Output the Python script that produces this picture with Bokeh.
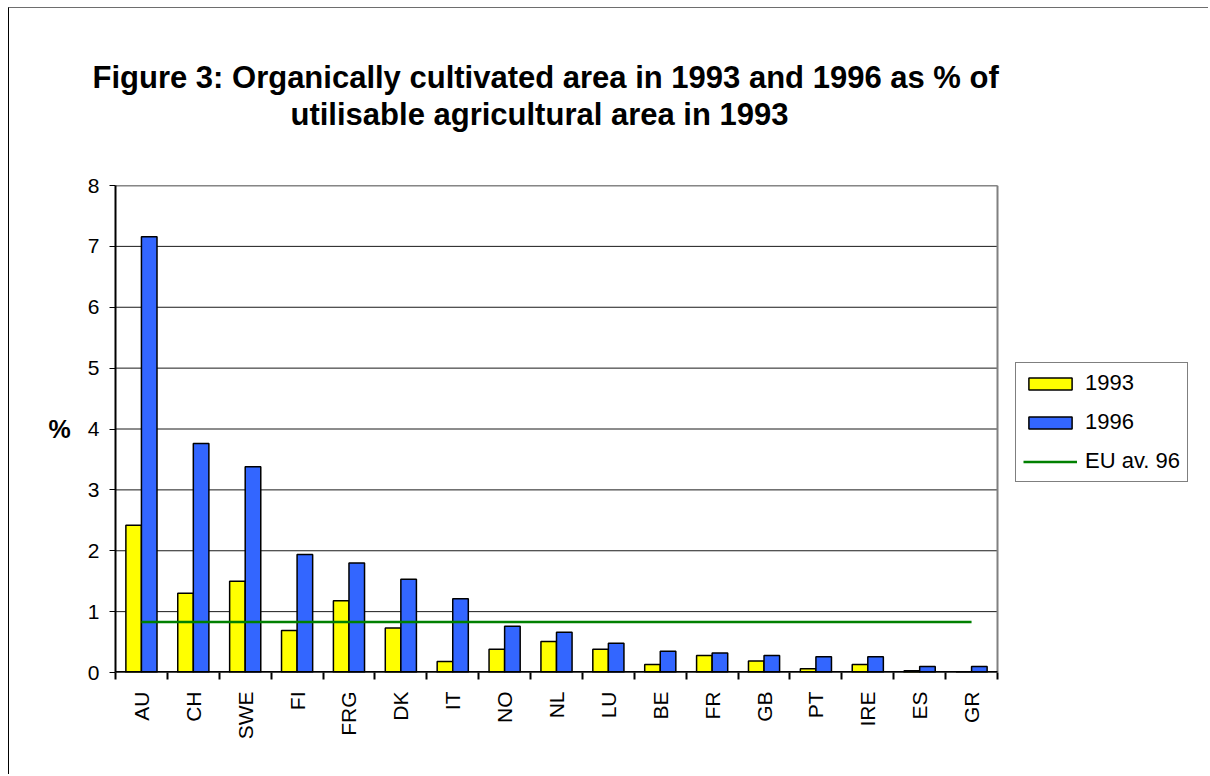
import numpy as np
from bokeh.plotting import figure
from bokeh.models import (Range1d, FixedTicker, Title, Legend, LegendItem,
                          ColumnDataSource)
from bokeh.transform import dodge
from bokeh.embed import file_html
from bokeh.resources import INLINE

# ---- data -------------------------------------------------------------
countries = ["AU", "CH", "SWE", "FI", "FRG", "DK", "IT", "NO", "NL", "LU",
             "BE", "FR", "GB", "PT", "IRE", "ES", "GR"]
area_1993 = [2.42, 1.30, 1.50, 0.69, 1.18, 0.73, 0.18, 0.38, 0.51, 0.38,
             0.13, 0.28, 0.19, 0.06, 0.13, 0.03, 0.00]
area_1996 = [7.16, 3.76, 3.38, 1.94, 1.80, 1.53, 1.21, 0.76, 0.66, 0.48,
             0.35, 0.32, 0.28, 0.26, 0.26, 0.10, 0.10]
eu_avg_1996 = 0.83
y_ticks = [0, 1, 2, 3, 4, 5, 6, 7, 8]
title_lines = ["Figure 3:  Organically cultivated area in 1993 and 1996 as % of",
               "utilisable agricultural area in 1993"]

n = len(countries)
centers = [i + 0.5 for i in range(n)]
src = ColumnDataSource(dict(
    x=centers,
    y93=area_1993,
    y96=area_1996,
    eu=[eu_avg_1996] * n,
))

FONT = "Liberation Sans"

# The frame is widened to the right so that the legend can live inside it;
# the plot area proper (categories 0..n) spans 882 px of the 1086 px frame.
x_end = n * 1086.0 / 882.0
y_lo, y_hi = y_ticks[0], y_ticks[-1]

p = figure(width=1200, height=767,
           x_range=Range1d(0, x_end), y_range=Range1d(y_lo, y_hi),
           output_backend="svg", toolbar_location=None,
           min_border_left=106, min_border_right=8,
           min_border_top=177, min_border_bottom=103)
p.styles = {"margin-left": "8px", "margin-top": "7px",
            "border-left": "1px solid #000000", "border-top": "1px solid #6e6e6e"}
p.background_fill_color = "white"
p.border_fill_color = "white"
p.outline_line_color = None

# horizontal grid lines, limited to the plot area
p.segment(x0=[0] * len(y_ticks), x1=[n] * len(y_ticks), y0=y_ticks, y1=y_ticks,
          line_color="#1a1a1a", line_width=1)
# plot-area border (top and right)
p.segment(x0=[0, n], x1=[n, n], y0=[y_hi, y_lo], y1=[y_hi, y_hi],
          line_color="#808080", line_width=2)

r93 = p.vbar(x=dodge("x", -0.15, range=p.x_range), top="y93", width=0.3,
             fill_color="#FFFF00", line_color="black", line_width=1.5, source=src)
r96 = p.vbar(x=dodge("x", 0.15, range=p.x_range), top="y96", width=0.3,
             fill_color="#3366FF", line_color="black", line_width=1.5, source=src)
reu = p.line(x="x", y="eu", line_color="#008000", line_width=2.5, source=src)

# category axis line
p.segment(x0=[0], x1=[n], y0=[y_lo], y1=[y_lo], line_color="black", line_width=3)

# ---- axes ---------------------------------------------------------------
xa = p.xaxis[0]
xa.ticker = FixedTicker(ticks=centers, minor_ticks=list(range(n + 1)))
xa.major_label_overrides = {c: name for c, name in zip(centers, countries)}
xa.major_tick_line_color = None
xa.major_tick_in = 0
xa.major_tick_out = 0
xa.minor_tick_line_color = "black"
xa.minor_tick_line_width = 2
xa.minor_tick_in = 0
xa.minor_tick_out = 7
xa.major_label_orientation = np.pi / 2
xa.major_label_standoff = 12
xa.major_label_text_font = FONT
xa.major_label_text_font_size = "21px"
xa.major_label_text_color = "black"
xa.axis_line_color = None

ya = p.yaxis[0]
ya.ticker = FixedTicker(ticks=y_ticks)
ya.major_tick_in = 0
ya.major_tick_out = 6
ya.major_tick_line_color = "black"
ya.major_tick_line_width = 1
ya.minor_tick_line_color = None
ya.major_label_standoff = 10
ya.major_label_text_font = FONT
ya.major_label_text_font_size = "21px"
ya.major_label_text_color = "black"
ya.axis_line_color = "black"
ya.axis_line_width = 2
ya.axis_label = "%"
ya.axis_label_text_font = FONT
ya.axis_label_text_font_size = "25px"
ya.axis_label_text_font_style = "bold"
ya.axis_label_text_color = "black"
ya.axis_label_standoff = 14
if "axis_label_orientation" in ya.properties():
    ya.axis_label_orientation = "horizontal"

p.xgrid.visible = False
p.ygrid.visible = False

# ---- title (panels stack outward from the frame) ------------------------
p.add_layout(Title(text=" ", align="left", standoff=51,
                   text_font=FONT, text_font_size="1px",
                   text_color="white"), "above")
p.add_layout(Title(text=title_lines[1], align="left", offset=175, standoff=0,
                   text_font=FONT, text_font_size="31px", text_font_style="bold",
                   text_color="black"), "above")
p.add_layout(Title(text=title_lines[0], align="left", offset=-23, standoff=0,
                   text_font=FONT, text_font_size="31px", text_font_style="bold",
                   text_color="black"), "above")

# ---- legend -------------------------------------------------------------
legend = Legend(items=[LegendItem(label="1993", renderers=[r93]),
                       LegendItem(label="1996", renderers=[r96]),
                       LegendItem(label="EU av. 96", renderers=[reu])],
                location=(900, 190))
legend.border_line_color = "black"
legend.border_line_width = 1
legend.background_fill_color = "white"
legend.background_fill_alpha = 1
legend.padding = 7
legend.spacing = 13
legend.margin = 0
legend.glyph_width = 54
legend.glyph_height = 15
legend.label_height = 25
legend.label_standoff = 8
legend.label_text_font = FONT
legend.label_text_font_size = "22px"
legend.label_text_color = "black"
p.add_layout(legend)

open("out.html", "w").write(file_html(p, INLINE))
